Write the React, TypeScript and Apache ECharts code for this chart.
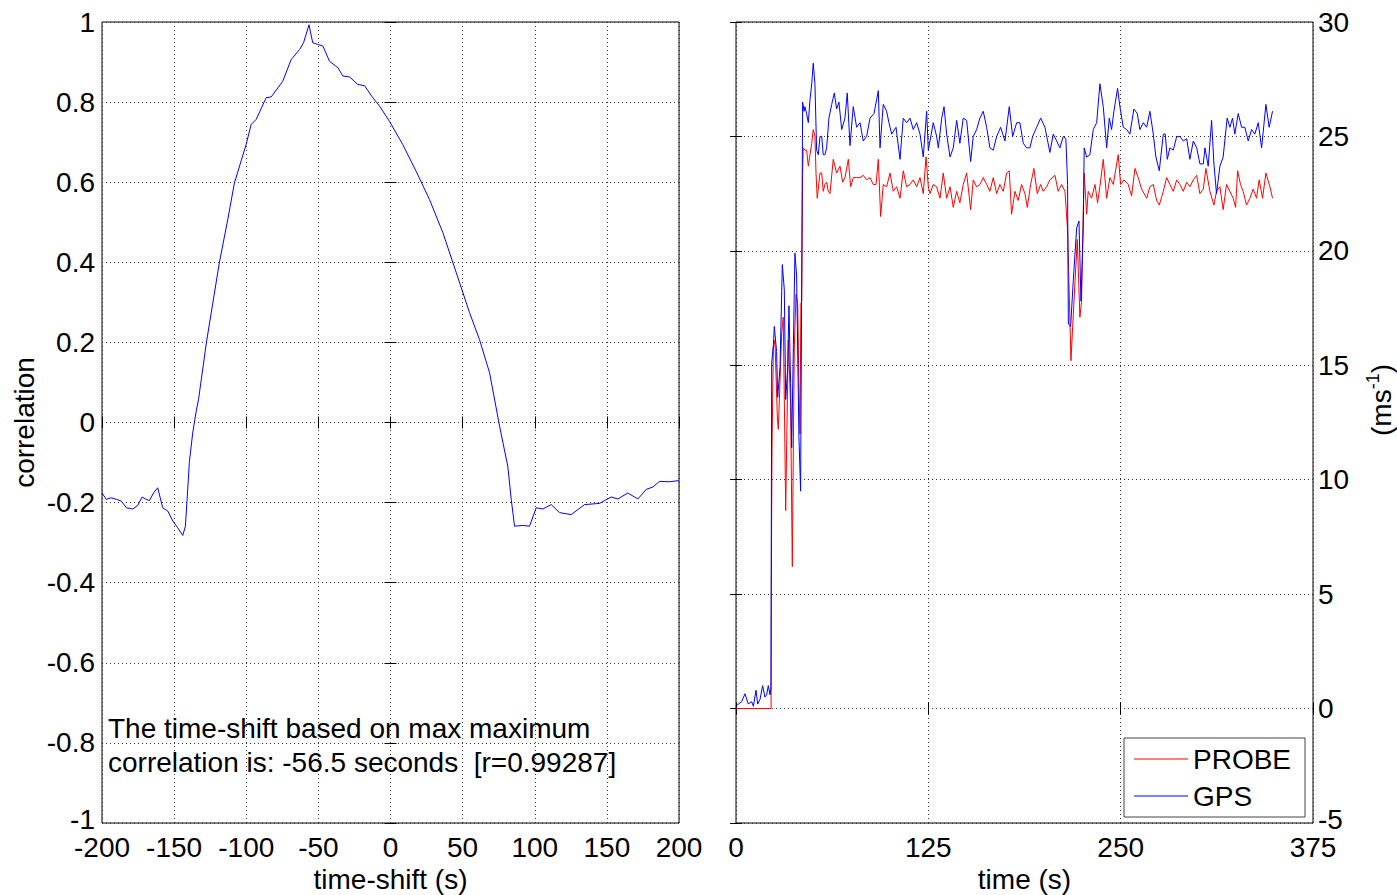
import React, { useEffect, useRef } from "react";
import * as echarts from "echarts";

// ---------- Left panel: cross-correlation vs time shift ----------
const shiftSeconds = [
  -200, -197, -193.7, -190, -186.7, -183, -178.7, -175.2, -172.2, -169.4, -167.1, -164.3, -161.4,
  -157.9, -154.4, -150.9, -147.5, -144, -142.2, -141, -139.4, -137.1, -134.7, -133.1, -127.6,
  -118.6, -112.8, -108.2, -100.1, -96.6, -93.1, -86.2, -82.7, -74.7, -68.9, -63.1, -60.3, -56.5,
  -53.9, -50.4, -46.9, -42.3, -36.5, -33, -28.4, -22.7, -18, -12.3, -7.6, -0.7, 8.5, 17.8, 27,
  36.3, 45.6, 54.8, 61.7, 68.7, 75.6, 81.3, 83.7, 86, 91.7, 96.4, 101, 105.6, 111.4, 117.2, 125.3,
  134.5, 144.9, 153, 157.6, 164.5, 171.5, 177.3, 181.9, 186.5, 193.5, 200,
];
const correlation = [
  -0.176, -0.192, -0.188, -0.192, -0.196, -0.213, -0.216, -0.207, -0.186, -0.192, -0.195, -0.176,
  -0.163, -0.213, -0.221, -0.246, -0.263, -0.282, -0.259, -0.192, -0.097, -0.026, 0.028, 0.057,
  0.2, 0.4, 0.507, 0.598, 0.694, 0.744, 0.757, 0.811, 0.813, 0.852, 0.906, 0.931, 0.948, 0.993,
  0.948, 0.944, 0.94, 0.902, 0.886, 0.865, 0.863, 0.844, 0.841, 0.811, 0.79, 0.752, 0.694, 0.627,
  0.557, 0.474, 0.374, 0.274, 0.207, 0.124, -0.009, -0.109, -0.192, -0.259, -0.257, -0.259,
  -0.213, -0.216, -0.205, -0.225, -0.23, -0.205, -0.202, -0.186, -0.191, -0.176, -0.191, -0.167,
  -0.161, -0.147, -0.148, -0.145,
];

// ---------- Right panel: speed time series ----------
const probeTime = [
  0, 22.8, 23.0, 23.1, 23.4, 24.3, 25.3, 26.9, 27.5, 28.6, 29.7, 30.7, 31.4, 32.3, 33.4, 34.0,
  34.4, 35.5, 36.6, 37.3, 37.9, 39.0, 40.1, 40.9, 41.6, 42.2, 42.7, 43.3, 43.7, 44.8, 45.9, 47.0,
  48.1, 49.2, 50.2, 51.3, 52.0, 52.8, 54.6, 55.7, 56.7, 57.8, 58.9, 60.0, 61.1, 63.2, 65.4, 67.6,
  69.3, 70.8, 73.0, 74.5, 76.2, 78.4, 80.6, 82.7, 84.9, 87.1, 89.2, 91.0, 92.5, 94.0, 95.7, 97.9,
  100.1, 102.2, 104.4, 106.6, 108.7, 110.9, 113.1, 115.2, 117.4, 119.6, 121.7, 123.5, 125.0,
  126.1, 128.2, 130.4, 132.6, 134.7, 136.9, 139.1, 141.2, 143.4, 145.5, 147.7, 149.9, 152.5,
  154.2, 156.4, 158.5, 160.7, 162.9, 165.0, 167.2, 169.4, 171.5, 173.7, 175.9, 177.6, 179.1,
  181.3, 183.4, 185.6, 187.8, 189.3, 191.5, 193.6, 195.8, 198.0, 199.7, 201.9, 204.0, 207.3,
  209.4, 211.6, 213.8, 215.5, 216.4, 217.7, 218.8, 220.3, 221.8, 223.5, 224.6, 225.7, 226.3,
  227.9, 228.9, 231.1, 233.3, 235.0, 236.5, 238.7, 240.9, 243.0, 245.2, 248.4, 250.0, 252.1,
  254.9, 257.1, 259.3, 261.4, 263.6, 266.9, 269.0, 271.2, 273.4, 275.1, 277.7, 279.9, 282.0,
  284.2, 286.4, 288.5, 290.7, 292.9, 295.0, 297.2, 299.4, 301.5, 303.7, 305.4, 308.0, 310.6,
  312.3, 314.5, 316.6, 318.8, 321.0, 323.1, 324.7, 326.0, 327.9, 329.6, 331.8, 334.0, 336.1,
  338.3, 340.0, 342.2, 344.4, 347.0, 348.7,
];
const probeSpeed = [
  0, 0, 5.2, 7.5, 11.4, 15.8, 16.1, 12.7, 12.2, 14.3, 16.4, 17.1, 13.5, 8.65, 13.6, 16.1, 15.4,
  13.2, 6.2, 11.6, 15.8, 18.1, 17.7, 14.0, 12.0, 17.7, 17.8, 23.4, 24.5, 24.4, 24.4, 23.7, 24.2,
  24.7, 25.3, 25.0, 23.4, 22.3, 23.4, 23.4, 22.6, 22.9, 23.0, 22.6, 22.5, 24.0, 23.4, 23.7, 23.0,
  23.2, 24.0, 22.8, 23.2, 23.2, 23.2, 23.3, 23.1, 23.2, 22.9, 22.9, 24.0, 21.5, 22.9, 22.8, 23.4,
  22.6, 22.8, 22.3, 23.5, 22.8, 22.9, 23.1, 22.8, 23.2, 22.5, 24.1, 22.8, 22.5, 22.9, 22.8, 22.3,
  23.4, 22.3, 22.8, 21.9, 22.6, 22.1, 22.9, 23.4, 21.8, 23.1, 22.8, 22.9, 23.2, 22.9, 22.6, 23.2,
  22.5, 22.9, 22.6, 23.4, 23.5, 21.6, 22.6, 22.2, 22.9, 22.5, 21.9, 22.9, 23.6, 22.5, 22.9, 22.6,
  22.8, 23.1, 23.3, 22.6, 22.9, 22.6, 20.9, 18.6, 15.2, 16.7, 18.6, 20.5, 17.1, 17.8, 21.8, 23.4,
  21.6, 22.6, 22.3, 22.9, 22.1, 22.8, 24.0, 22.3, 23.2, 22.9, 24.2, 22.9, 23.1, 22.9, 22.4, 23.6,
  23.2, 22.7, 22.3, 22.8, 22.9, 22.2, 22.0, 22.6, 23.2, 22.9, 22.6, 23.1, 22.9, 22.6, 23.0, 22.8,
  23.1, 23.3, 22.5, 22.7, 23.6, 22.6, 22.0, 22.6, 22.8, 21.8, 22.9, 22.6, 22.3, 21.9, 23.5, 22.9,
  22.6, 22.0, 22.3, 22.7, 22.3, 23.1, 22.3, 23.4, 22.8, 22.3,
];

const gpsTime = [
  0, 1.5, 3.7, 5.8, 8.0, 10.2, 11.3, 13.0, 14.1, 15.6, 17.3, 18.8, 19.9, 21.0, 22.1, 22.7, 23.2,
  24.3, 24.9, 26.4, 27.1, 28.6, 30.1, 31.4, 32.3, 33.6, 34.4, 35.5, 36.2, 37.3, 38.3, 39.4, 40.9,
  42.0, 43.3, 44.2, 44.8, 45.9, 47.0, 48.1, 49.2, 50.2, 51.3, 52.4, 53.5, 54.6, 55.7, 56.7, 57.8,
  58.9, 60.4, 62.2, 63.9, 65.4, 66.9, 68.7, 70.8, 72.3, 74.1, 76.2, 78.4, 80.6, 82.7, 84.9, 87.1,
  89.7, 92.5, 93.6, 95.7, 97.9, 99.4, 101.2, 104.0, 106.6, 108.7, 110.9, 113.1, 115.2, 117.4,
  119.6, 121.7, 123.9, 125.0, 128.2, 130.4, 131.5, 133.7, 135.2, 136.9, 139.1, 141.2, 143.4,
  145.5, 147.7, 149.9, 152.5, 154.2, 156.4, 158.5, 160.7, 162.9, 165.0, 167.2, 169.4, 172.0,
  174.8, 177.6, 179.8, 182.4, 184.5, 186.7, 188.9, 191.0, 192.8, 195.4, 198.0, 200.8, 204.0,
  206.2, 208.4, 210.5, 212.7, 214.4, 215.5, 216.0, 217.5, 219.2, 221.4, 222.9, 224.2, 225.7,
  226.3, 227.9, 230.0, 232.2, 234.4, 236.5, 238.7, 240.9, 242.6, 244.1, 245.6, 248.0, 249.5,
  251.7, 253.9, 256.0, 258.6, 260.8, 262.5, 264.7, 266.9, 269.0, 271.2, 272.9, 275.1, 277.7,
  279.0, 280.3, 282.0, 284.2, 286.4, 288.5, 290.7, 292.9, 295.0, 297.2, 299.4, 301.5, 303.7,
  304.8, 306.9, 309.1, 310.6, 312.3, 314.5, 316.6, 319.2, 321.0, 322.7, 324.2, 326.4, 328.6,
  330.7, 332.9, 335.1, 337.2, 339.4, 341.6, 344.4, 346.5, 348.7,
];
const gpsSpeed = [
  0.1, 0.2, 0.3, 0.65, 0.2, 0.3, 0.1, 0.8, 0.2, 0.4, 1.0, 0.5, 0.6, 1.0, 0.6, 0.9, 15.1, 15.9,
  16.7, 15.6, 13.6, 14.9, 19.4, 18.3, 13.5, 14.9, 17.6, 14.2, 11.4, 15.9, 19.9, 18.9, 11.9, 9.5,
  26.5, 26.1, 26.3, 26.0, 25.6, 26.6, 27.3, 28.2, 27.3, 24.4, 24.2, 25.0, 25.0, 24.2, 24.2, 24.5,
  25.8, 26.4, 26.9, 26.2, 26.5, 25.3, 25.8, 26.9, 24.6, 26.3, 25.4, 25.6, 24.8, 25.0, 25.8, 26.0,
  27.0, 24.5, 26.4, 26.1, 25.6, 25.1, 25.4, 24.0, 25.8, 25.6, 25.8, 25.3, 25.6, 25.1, 24.1, 26.1,
  24.4, 25.6, 25.0, 24.5, 25.8, 26.3, 25.1, 24.1, 24.5, 25.7, 24.7, 25.8, 25.7, 23.9, 25.0, 25.3,
  25.8, 26.1, 25.4, 24.5, 24.4, 25.0, 25.4, 24.8, 26.3, 25.0, 25.6, 25.6, 24.7, 24.5, 24.5, 25.0,
  25.4, 25.8, 25.4, 24.3, 25.1, 24.8, 24.5, 25.0, 24.9, 22.9, 16.8, 16.7, 18.7, 21.0, 21.3, 17.8,
  21.0, 24.5, 24.1, 24.2, 25.3, 25.6, 27.3, 26.3, 24.5, 25.8, 25.3, 26.1, 27.1, 26.3, 25.4, 25.3,
  25.1, 26.2, 26.0, 25.3, 25.6, 25.4, 26.1, 25.1, 24.1, 23.5, 25.1, 25.1, 24.0, 24.5, 24.4, 25.0,
  25.0, 24.8, 24.9, 24.0, 24.8, 24.5, 23.8, 23.8, 24.5, 23.7, 25.7, 23.8, 22.5, 23.7, 24.1, 25.8,
  25.4, 25.8, 25.1, 26.0, 25.4, 25.4, 24.8, 25.3, 25.1, 25.6, 24.5, 26.4, 25.4, 26.1,
];

const seriesNames = ["PROBE", "GPS"];
const annotationLines = [
  "The time-shift based on max maximum",
  "correlation is: -56.5 seconds  [r=0.99287]",
];

const FONT = "'Liberation Sans', Arial, Helvetica, sans-serif";
const FS = 28;

const pairs = (xs: number[], ys: number[]) => xs.map((x, i) => [x, ys[i]]);

const gridDots = { show: true, lineStyle: { color: "#333", width: 1, type: [1, 3] } };
const tickIn = { show: true, inside: true, length: 6, lineStyle: { color: "#000", width: 1 } };
const labelStyle = { color: "#000", fontSize: FS, fontFamily: FONT };
const tickLabelStyle = { ...labelStyle, lineHeight: 20 };
// lowest y label is lifted a little so it does not collide with the x labels below it
const yLabelRich = {
  low: { fontSize: FS, fontFamily: FONT, color: "#000", lineHeight: 20, padding: [0, 0, 8, 0] },
};
const yLabelFormatter = (lowest: number) => (v: number) =>
  v === lowest ? `{low|${v}}` : String(Math.round(v * 10) / 10);

export default function App() {
  const ref = useRef<HTMLDivElement>(null);

  useEffect(() => {
    if (!ref.current) return;
    const chart = echarts.init(ref.current, undefined, { renderer: "svg" });
    const secondaryX = (gridIndex: number, min: number, max: number, interval: number) => ({
      type: "value",
      gridIndex,
      min,
      max,
      interval,
      position: "top",
      axisLine: { show: false },
      axisTick: tickIn,
      axisLabel: { show: false },
      splitLine: { show: false },
    });
    const secondaryY = (gridIndex: number, min: number, max: number, interval: number, pos: string) => ({
      type: "value",
      gridIndex,
      min,
      max,
      interval,
      position: pos,
      axisLine: { show: false },
      axisTick: tickIn,
      axisLabel: { show: false },
      splitLine: { show: false },
    });

    chart.setOption({
      animation: false,
      backgroundColor: "#fff",
      textStyle: { fontFamily: FONT },
      grid: [
        {
          left: 102, top: 22, width: 577, height: 801, show: true, borderColor: "#000", borderWidth: 1,
          backgroundColor: "transparent", containLabel: false, outerBoundsMode: "none",
        },
        {
          left: 736, top: 22, width: 577, height: 801, show: true, borderColor: "#000", borderWidth: 1,
          backgroundColor: "transparent", containLabel: false, outerBoundsMode: "none",
        },
      ],
      xAxis: [
        {
          type: "value",
          gridIndex: 0,
          min: -200,
          max: 200,
          interval: 50,
          position: "bottom",
          axisLine: { show: false },
          axisTick: tickIn,
          axisLabel: { ...tickLabelStyle, margin: 14, showMinLabel: true, showMaxLabel: true },
          splitLine: gridDots,
          name: "time-shift (s)",
          nameLocation: "middle",
          nameGap: 40,
          nameTextStyle: labelStyle,
        },
        secondaryX(0, -200, 200, 50),
        {
          type: "value",
          gridIndex: 1,
          min: 0,
          max: 375,
          interval: 125,
          position: "bottom",
          axisLine: { show: false },
          axisTick: tickIn,
          axisLabel: { ...tickLabelStyle, margin: 14, showMinLabel: true, showMaxLabel: true },
          splitLine: gridDots,
          name: "time (s)",
          nameLocation: "middle",
          nameGap: 40,
          nameTextStyle: labelStyle,
        },
        secondaryX(1, 0, 375, 125),
      ],
      yAxis: [
        {
          type: "value",
          gridIndex: 0,
          min: -1,
          max: 1,
          interval: 0.2,
          position: "left",
          axisLine: { show: false },
          axisTick: tickIn,
          axisLabel: {
            ...tickLabelStyle,
            margin: 7,
            showMinLabel: true,
            showMaxLabel: true,
            formatter: yLabelFormatter(-1),
            rich: yLabelRich,
          },
          splitLine: gridDots,
          name: "correlation",
          nameLocation: "middle",
          nameGap: 64,
          nameTextStyle: labelStyle,
        },
        secondaryY(0, -1, 1, 0.2, "right"),
        {
          type: "value",
          gridIndex: 1,
          min: -5,
          max: 30,
          interval: 5,
          position: "right",
          axisLine: { show: false },
          axisTick: tickIn,
          axisLabel: {
            ...tickLabelStyle,
            margin: 5,
            showMinLabel: true,
            showMaxLabel: true,
            formatter: yLabelFormatter(-5),
            rich: yLabelRich,
          },
          splitLine: gridDots,
        },
        secondaryY(1, -5, 30, 5, "left"),
      ],
      legend: {
        data: seriesNames.map((name) => ({ name, icon: "rect" })),
        orient: "vertical",
        left: 1124,
        top: 738,
        padding: [6, 14, 6, 10],
        itemGap: 7,
        itemWidth: 54,
        itemHeight: 1,
        backgroundColor: "#fff",
        borderColor: "#444",
        borderWidth: 1,
        textStyle: { ...labelStyle, lineHeight: 30 },
      },
      graphic: [
        {
          type: "text",
          left: 108,
          top: 711,
          style: {
            text: annotationLines.join("\n"),
            fontSize: FS,
            fontFamily: FONT,
            lineHeight: 34,
            fill: "#000",
          },
          z: 100,
        },
        {
          type: "text",
          x: 1381,
          y: 400,
          rotation: Math.PI / 2,
          style: {
            text: "{a|(ms}{s|-1}{a|)}",
            align: "center",
            verticalAlign: "middle",
            fill: "#000",
            rich: {
              a: { fontSize: FS, fontFamily: FONT, fill: "#000" },
              s: { fontSize: 18, fontFamily: FONT, fill: "#000", padding: [0, 0, 16, 0] },
            },
          },
        },
      ],
      series: [
        {
          type: "line",
          xAxisIndex: 0,
          yAxisIndex: 0,
          data: pairs(shiftSeconds, correlation),
          symbol: "none",
          lineStyle: { color: "#0000ff", width: 1 },
          itemStyle: { color: "#0000ff" },
        },
        {
          name: seriesNames[0],
          type: "line",
          xAxisIndex: 2,
          yAxisIndex: 2,
          data: pairs(probeTime, probeSpeed),
          symbol: "none",
          lineStyle: { color: "#ff0000", width: 1 },
          itemStyle: { color: "#ff0000" },
        },
        {
          name: seriesNames[1],
          type: "line",
          xAxisIndex: 2,
          yAxisIndex: 2,
          data: pairs(gpsTime, gpsSpeed),
          symbol: "none",
          lineStyle: { color: "#0000ff", width: 1 },
          itemStyle: { color: "#0000ff" },
        },
      ],
    });
    return () => chart.dispose();
  }, []);

  return (
    <div
      ref={ref}
      style={{ position: "absolute", left: 0, top: 0, width: 1397, height: 895, background: "#fff" }}
    />
  );
}
